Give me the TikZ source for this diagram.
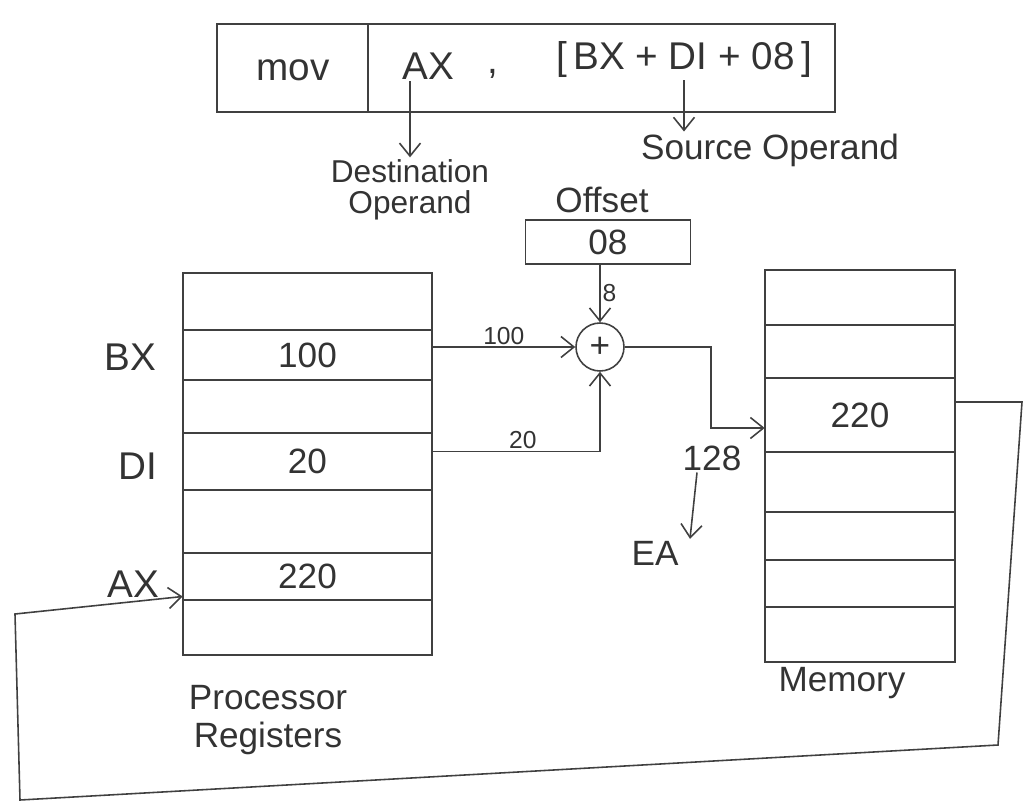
\documentclass[tikz,border=0pt]{standalone}
\usepackage{fontspec}
\setmainfont{Liberation Sans}
\usetikzlibrary{arrows.meta,calc}
\begin{document}
\begin{tikzpicture}[x=0.02cm,y=-0.02cm,
  ink/.style={draw=black!75, line width=0.9pt},
  arr/.style={ink,-{Straight Barb[length=2.6mm,width=4.2mm]}},
  txt/.style={text=black!80, inner sep=1pt},
  big/.style={txt,font=\fontsize{22}{26}\selectfont},
  mid/.style={txt,font=\fontsize{20}{22}\selectfont},
  lab/.style={txt,font=\fontsize{18}{18}\selectfont},
  sml/.style={txt,font=\fontsize{14}{16}\selectfont},
  box/.style={ink, rectangle, inner sep=0pt},
  cell/.style={mid, inner sep=0pt, minimum width=4.98cm}]
\useasboundingbox (0,0) rectangle (1025,808);

% instruction
\node[box, minimum width=12.36cm, minimum height=1.76cm] (instr) at (526,68) {};
\coordinate (dv1) at (368,24);
\coordinate (dv2) at (368,112);
\draw[ink] (dv1) -- (dv2);
\node[big] (mov) at (293,70) {mov};
\node[big] (ax) at (428,66) {AX};
\node[big] (comma) at (493,74) {,};
\node[big] (src) at (684,60) {[\,BX + DI + 08\,]};
\node[lab, align=center] (dest) at (410,190) {Destination\\Operand};
\draw[arr] (dest.north |- ax.south) -- (dest.north);
\node[mid] (srcl) at (770,150) {Source Operand};
\draw[arr] (src.south) -- (src.south |- srcl.north);

% offset and adder
\node[mid] (offl) at (602,200) {Offset};
\node[box, mid, minimum width=3.3cm, minimum height=0.88cm] (off) at (608,242) {08};
\node[ink, circle, minimum size=0.96cm, inner sep=0pt, mid] (add) at (600,347) {+};
\draw[arr] (add.north |- off.south) -- (add.north) node[midway, right, sml] {8};

% processor registers
\node[box, minimum width=4.98cm, minimum height=7.64cm] (reg) at (307.5,464) {};
\foreach \y in {330,380,433,490,553,600} \draw[ink] (183,\y) -- (432,\y);
\node[cell, minimum height=1cm] (rBX) at (307.5,355) {100};
\node[cell, minimum height=1.14cm] (rDI) at (307.5,461.5) {20};
\node[cell, minimum height=0.94cm] (rAX) at (307.5,576.5) {220};
\node[big] (lBX) at (130,357) {BX};
\node[big] (lDI) at (138,466) {DI};
\node[big] (lAX) at (133,584) {AX};
\node[mid, align=center] (pl) at (268,720) {Processor\\Registers};

% memory
\node[box, minimum width=3.8cm, minimum height=7.84cm] (mem) at (860,466) {};
\foreach \y in {325,378,452,512,560,607} \draw[ink] (765,\y) -- (955,\y);
\node[mid, inner sep=0pt, minimum width=3.8cm, minimum height=1.48cm] (m220) at (860,415) {220};
\node[mid] (ml) at (842,683) {Memory};

% connectors
\draw[arr] (rBX.east |- add.west) -- (add.west) node[midway, above, sml] {100};
\draw[arr] ([yshift=0.2cm]rDI.east) -| (add.south) node[pos=0.27, above, sml] {20};
\draw[arr] (add.east) -- ++(86,0) |- ([yshift=-0.26cm]m220.west);
\node[mid] (n128) at (712,458) {128};
\node[mid] (ea) at (655,553) {EA};
\draw[arr] ([xshift=-0.3cm]n128.south) -- ([xshift=0.7cm]ea.north);

% feedback path
\coordinate (f1) at (1022,402);
\coordinate (f2) at (998,745);
\coordinate (f3) at (20,800);
\coordinate (f4) at (15,614);
\draw[arr] ([yshift=0.26cm]m220.east) -- (f1) -- (f2) -- (f3) -- (f4) -- ([yshift=-0.4cm]rAX.west);
\end{tikzpicture}
\end{document}
